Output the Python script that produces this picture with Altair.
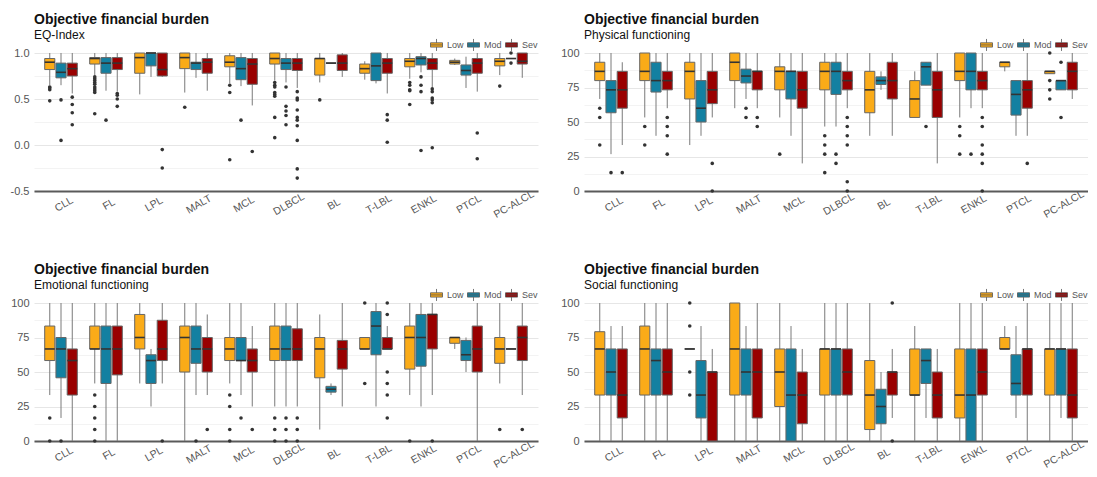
import altair as alt
import pandas as pd

CATS = ["CLL", "FL", "LPL", "MALT", "MCL", "DLBCL", "BL", "T-LBL", "ENKL", "PTCL", "PC-ALCL"]
GROUPS = ["Low", "Mod", "Sev"]
COLORS = ["#FAAB18", "#1380A1", "#990000"]
STATS = ["lo", "q1", "med", "q3", "hi"]

# ---------- EQ-Index: [lower whisker, Q1, median, Q3, upper whisker] per category ----------
EQ_LOW = [[0.65, 0.82, 0.90, 0.94, 1.00], [0.76, 0.88, 0.94, 0.95, 1.00], [0.55, 0.78, 0.95, 1.00, 1.00],
          [0.57, 0.83, 0.95, 1.00, 1.00], [0.67, 0.85, 0.90, 0.97, 1.00], [0.70, 0.88, 0.94, 1.00, 1.00],
          [0.68, 0.76, 0.94, 0.94, 1.00], [0.71, 0.78, 0.83, 0.88, 0.91], [0.72, 0.85, 0.91, 0.94, 1.00],
          [0.87, 0.88, 0.90, 0.92, 0.94], [0.76, 0.86, 0.91, 0.94, 1.00]]
EQ_MOD = [[0.65, 0.73, 0.79, 0.89, 1.00], [0.59, 0.78, 0.89, 0.95, 1.00], [0.74, 0.86, 1.00, 1.00, 1.00],
          [0.73, 0.82, 0.89, 0.90, 1.00], [0.64, 0.71, 0.83, 0.95, 1.00], [0.68, 0.82, 0.89, 0.94, 1.00],
          [0.89, 0.89, 0.89, 0.89, 0.89], [0.67, 0.70, 0.86, 1.00, 1.00], [0.79, 0.87, 0.94, 0.96, 1.00],
          [0.62, 0.76, 0.81, 0.87, 0.96], [0.94, 0.94, 0.94, 0.94, 0.94]]
EQ_SEV = [[0.56, 0.75, 0.83, 0.89, 1.00], [0.58, 0.82, 0.89, 0.95, 1.00], [0.74, 0.75, 0.82, 1.00, 1.00],
          [0.59, 0.78, 0.90, 0.94, 1.00], [0.43, 0.66, 0.88, 0.94, 1.00], [0.62, 0.81, 0.89, 0.94, 1.00],
          [0.74, 0.81, 0.89, 0.98, 1.00], [0.56, 0.78, 0.89, 0.94, 1.00], [0.63, 0.82, 0.89, 0.94, 1.00],
          [0.58, 0.78, 0.89, 0.94, 1.00], [0.73, 0.88, 0.91, 1.00, 1.00]]
EQ_LOW_OUT = [[0.63, 0.62, 0.60, 0.48], [0.74, 0.72, 0.70, 0.68, 0.66, 0.63, 0.61, 0.59, 0.57, 0.34], [], [0.41],
              [0.65, 0.57, -0.16], [0.68, 0.65, 0.63, 0.57, 0.55, 0.53, 0.30, 0.08], [0.49], [],
              [0.68, 0.65, 0.60, 0.59, 0.44], [], [0.64]]
EQ_MOD_OUT = [[0.49, 0.05], [0.27], [], [], [0.27], [0.63, 0.42, 0.37, 0.32, 0.22], [], [],
              [0.74, 0.65, 0.58, -0.06], [], [1.00, 0.89]]
EQ_SEV_OUT = [[0.52, 0.44, 0.35, 0.22], [0.56, 0.54, 0.50, 0.42], [-0.05, -0.25], [], [-0.07],
              [0.58, 0.51, 0.49, 0.38, 0.30, 0.27, 0.21, 0.05, -0.26, -0.36], [], [0.33, 0.27, 0.03],
              [0.61, 0.58, 0.51, 0.49, 0.46, -0.03], [0.13, -0.15], []]

# ---------- Physical functioning ----------
PF_LOW = [[66.7, 80, 86.7, 93.3, 100], [53.3, 80, 86.7, 100, 100], [33.3, 66.7, 86.7, 93.3, 100],
          [60, 80, 93.3, 100, 100], [53.3, 73.3, 86.7, 90, 100], [46.7, 73.3, 86.7, 93.3, 100],
          [40, 56.7, 73.3, 86.7, 100], [53.3, 53.3, 66.7, 80, 86.7], [53.3, 80, 86.7, 100, 100],
          [86.7, 90, 93.3, 93.3, 93.3], [85, 85, 86.7, 86.7, 86.7]]
PF_MOD = [[26.7, 56.7, 73.3, 80, 100], [40, 71.7, 80, 93.3, 100], [40, 50, 60, 80, 100],
          [66.7, 78.3, 83.3, 88.3, 100], [40, 66.7, 86.7, 86.7, 100], [46.7, 70, 86.7, 93.3, 100],
          [73.3, 77.2, 80, 82.7, 86.7], [76.7, 76.7, 90, 93.3, 93.3], [60, 73.3, 86.7, 100, 100],
          [40, 55, 70, 80, 80], [73.3, 73.3, 80, 80, 80]]
PF_SEV = [[33.3, 60, 73.3, 86.7, 93.3], [60, 73.3, 80, 86.7, 100], [53.3, 63.3, 73.3, 86.7, 100],
          [60, 73.3, 86.7, 86.7, 100], [20, 60, 73.3, 86.7, 100], [60, 73.3, 80, 86.7, 100],
          [40, 66.7, 80, 93.3, 100], [20, 53.3, 73.3, 86.7, 100], [60, 73.3, 80, 86.7, 100],
          [40, 60, 73.3, 80, 100], [66.7, 73.3, 86.7, 93.3, 100]]
PF_LOW_OUT = [[60, 53.3, 33.3], [46.7, 33.3], [], [], [26.7], [40, 33.3, 26.7, 13.3], [], [],
              [46.7, 40, 26.7], [], [100, 80, 73.3, 66.7]]
PF_MOD_OUT = [[13.3], [], [], [60, 53.3], [], [26.7, 20], [], [46.7], [26.7], [], [93.3, 53.3]]
PF_SEV_OUT = [[13.3], [53.3, 46.7, 40, 26.7], [20, 0], [53.3, 46.7], [], [53.3, 46.7, 40, 33.3, 6.7, 0],
              [], [], [53.3, 46.7, 33.3, 26.7, 20, 0], [20], []]

# ---------- Emotional functioning ----------
EF_LOW = [[33.3, 58.3, 66.7, 83.3, 100], [41.7, 66.7, 66.7, 83.3, 100], [41.7, 66.7, 75, 91.7, 100],
          [0, 50, 75, 83.3, 100], [41.7, 58.3, 66.7, 75, 100], [25, 58.3, 66.7, 83.3, 100],
          [8.3, 45.8, 66.7, 75, 91.7], [66.7, 66.7, 66.7, 75, 75], [33.3, 52.1, 75, 83.3, 100],
          [66.7, 70.8, 75, 75, 75], [41.7, 56.3, 66.7, 75, 100]]
EF_MOD = [[16.7, 45.8, 66.7, 75, 100], [0, 41.7, 66.7, 83.3, 100], [25, 41.7, 58.3, 62.5, 66.7],
          [33.3, 56.3, 66.7, 83.3, 100], [33.3, 58.3, 58.3, 75, 100], [25, 58.3, 66.7, 83.3, 100],
          [33.3, 35.4, 37.5, 39.6, 41.7], [25, 62.5, 83.3, 93.8, 100], [25, 54.2, 75, 91.7, 100],
          [50, 58.3, 62.5, 72.9, 75], [66.7, 66.7, 66.7, 66.7, 66.7]]
EF_SEV = [[0, 33.3, 58.3, 66.7, 100], [0, 47.9, 66.7, 83.3, 100], [41.7, 58.3, 66.7, 87.5, 100],
          [33.3, 50, 66.7, 75, 91.7], [25, 50, 58.3, 66.7, 83.3], [25, 58.3, 66.7, 81.3, 100],
          [25, 52.1, 66.7, 72.9, 100], [66.7, 66.7, 66.7, 75, 83.3], [33.3, 66.7, 91.7, 91.7, 100],
          [0, 50, 66.7, 83.3, 100], [33.3, 58.3, 75, 83.3, 100]]
EF_LOW_OUT = [[16.7, 0], [33.3, 25, 16.7, 8.3, 0], [], [], [33.3, 25, 8.3, 0], [16.7, 8.3, 0], [],
              [100, 41.7], [0], [], [8.3]]
EF_MOD_OUT = [[0], [], [], [0], [16.7], [16.7, 8.3, 0], [], [], [], [], []]
EF_SEV_OUT = [[], [], [0], [8.3], [8.3], [16.7, 8.3, 0], [], [100, 91.7, 50, 41.7, 33.3, 16.7], [0], [], [8.3]]

# ---------- Social functioning ----------
SF_LOW = [[0, 33.3, 66.7, 79.2, 100], [0, 33.3, 66.7, 83.3, 100], [66.7, 66.7, 66.7, 66.7, 66.7],
          [0, 33.3, 66.7, 100, 100], [0, 25, 50, 66.7, 100], [0, 33.3, 66.7, 66.7, 100],
          [0, 8.3, 33.3, 58.3, 100], [0, 33.3, 33.3, 66.7, 83.3], [0, 16.7, 33.3, 66.7, 100],
          [66.7, 66.7, 66.7, 75, 83.3], [0, 33.3, 66.7, 66.7, 100]]
SF_MOD = [[0, 33.3, 50, 66.7, 83.3], [0, 33.3, 58.3, 66.7, 100], [0, 16.7, 33.3, 58.3, 83.3],
          [0, 33.3, 50, 66.7, 83.3], [0, 0, 33.3, 66.7, 83.3], [0, 33.3, 66.7, 66.7, 100],
          [0, 12.5, 25, 37.5, 50], [16.7, 41.7, 58.3, 66.7, 66.7], [0, 0, 33.3, 66.7, 100],
          [16.7, 33.3, 41.7, 62.5, 83.3], [16.7, 33.3, 66.7, 66.7, 100]]
SF_SEV = [[0, 16.7, 33.3, 66.7, 83.3], [0, 33.3, 50, 66.7, 100], [0, 0, 50, 50, 66.7],
          [0, 16.7, 50, 66.7, 100], [0, 12.5, 33.3, 50, 66.7], [0, 33.3, 50, 66.7, 100],
          [16.7, 33.3, 50, 50, 66.7], [0, 16.7, 33.3, 50, 66.7], [0, 33.3, 50, 66.7, 100],
          [0, 33.3, 66.7, 66.7, 100], [0, 16.7, 33.3, 66.7, 100]]
SF_LOW_OUT = [[], [], [100, 83.3, 50, 33.3], [], [], [], [], [], [], [], []]
SF_MOD_OUT = [[], [], [], [], [], [], [], [], [], [], []]
SF_SEV_OUT = [[], [], [], [], [], [], [100, 0], [], [], [], []]

EQ_TICKS = [-0.5, -0.25, 0, 0.25, 0.5, 0.75, 1.0]
SCORE_TICKS = [0, 12.5, 25, 37.5, 50, 62.5, 75, 87.5, 100]

FONT = "Liberation Sans"
LEGEND_SYMBOL = "M-1,-0.36H1V0.36H-1Z M0,-0.36V-1 M0,0.36V1 M-1,0H1"


def panel(subtitle, boxes, outs, domain, ticks, major_test, label_expr):
    rows = []
    for g, stats in zip(GROUPS, boxes):
        for c, s in zip(CATS, stats):
            r = {"cat": c, "group": g}
            r.update(dict(zip(STATS, s)))
            rows.append(r)
    bdf = pd.DataFrame(rows)
    orows = []
    for g, olist in zip(GROUPS, outs):
        for c, vals in zip(CATS, olist):
            for v in vals:
                orows.append({"cat": c, "group": g, "val": v})
    odf = pd.DataFrame(orows)

    xaxis = alt.Axis(title=None, labelAngle=330, labelAlign="center", labelBaseline="middle",
                     labelPadding=13, labelOffset=3, ticks=False, tickSize=0, grid=False,
                     domainColor="#5a5a5a", domainWidth=1.8, labelColor="#555555",
                     labelFontSize=10.5, labelFont=FONT, labelOverlap=False)
    x = alt.X("cat:N", sort=CATS, axis=xaxis,
              scale=alt.Scale(type="band", domain=CATS, paddingInner=0.25, paddingOuter=0.225))
    xo = alt.XOffset("group:N", sort=GROUPS,
                     scale=alt.Scale(domain=GROUPS, paddingInner=0.1, paddingOuter=0.05))
    yaxis = alt.Axis(title=None, values=ticks, labelExpr=label_expr, grid=True,
                     gridColor={"condition": {"test": major_test, "value": "#e6e6e6"}, "value": "#f3f3f3"},
                     gridWidth=1, ticks=False, tickSize=0, domain=False, labelColor="#555555",
                     labelFontSize=11, labelFont=FONT, labelPadding=5, minExtent=26, maxExtent=26)
    ysc = alt.Scale(domain=domain, nice=False, zero=False)

    legend = alt.Legend(title=None, orient="none", legendX=396, legendY=-15, direction="horizontal",
                        symbolType=LEGEND_SYMBOL, symbolSize=144, symbolStrokeColor="#555555",
                        symbolStrokeWidth=0.8, symbolOpacity=1, labelFontSize=9, labelColor="#555555",
                        labelFont=FONT, labelOffset=4, columnPadding=1)

    whisk = alt.Chart(bdf).mark_rule(color="#7a7a7a", strokeWidth=1).encode(
        x=x, xOffset=xo, y=alt.Y("lo:Q", scale=ysc, axis=yaxis), y2="hi:Q")
    box = alt.Chart(bdf).mark_bar(stroke="#666666", strokeWidth=1, opacity=1).encode(
        x=x, xOffset=xo, y=alt.Y("q1:Q", scale=ysc, axis=yaxis), y2="q3:Q",
        color=alt.Color("group:N", scale=alt.Scale(domain=GROUPS, range=COLORS), legend=legend))
    med = alt.Chart(bdf).mark_tick(color="#333333", thickness=1.6, size=10, orient="horizontal", opacity=1).encode(
        x=x, xOffset=xo, y=alt.Y("med:Q", scale=ysc, axis=yaxis))
    pts = alt.Chart(odf).mark_circle(color="#333333", size=13, opacity=1).encode(
        x=x, xOffset=xo, y=alt.Y("val:Q", scale=ysc, axis=yaxis))

    return alt.layer(whisk, box, med, pts).properties(
        width=504, height=138,
        title=alt.Title("Objective financial burden", subtitle=subtitle, anchor="start", frame="group",
                        fontSize=14, fontWeight="bold", font=FONT, color="#111111",
                        subtitleFontSize=12, subtitleFont=FONT, subtitleColor="#111111",
                        subtitlePadding=3, offset=-2.5))


EQ_TEST = "abs(datum.value * 2 - round(datum.value * 2)) < 0.001"
EQ_LABEL = EQ_TEST + " ? replace(format(datum.value, '.1f'), '\u2212', '-') : ''"
SC_TEST = "datum.value % 25 == 0"
SC_LABEL = SC_TEST + " ? format(datum.value, 'd') : ''"

p1 = panel("EQ-Index", [EQ_LOW, EQ_MOD, EQ_SEV], [EQ_LOW_OUT, EQ_MOD_OUT, EQ_SEV_OUT],
           [-0.5, 1.0], EQ_TICKS, EQ_TEST, EQ_LABEL)
p2 = panel("Physical functioning", [PF_LOW, PF_MOD, PF_SEV], [PF_LOW_OUT, PF_MOD_OUT, PF_SEV_OUT],
           [0, 100], SCORE_TICKS, SC_TEST, SC_LABEL)
p3 = panel("Emotional functioning", [EF_LOW, EF_MOD, EF_SEV], [EF_LOW_OUT, EF_MOD_OUT, EF_SEV_OUT],
           [0, 100], SCORE_TICKS, SC_TEST, SC_LABEL)
p4 = panel("Social functioning", [SF_LOW, SF_MOD, SF_SEV], [SF_LOW_OUT, SF_MOD_OUT, SF_SEV_OUT],
           [0, 100], SCORE_TICKS, SC_TEST, SC_LABEL)

chart = alt.concat(p1, p2, p3, p4, columns=2, spacing={"row": 112, "column": 46},
                   bounds="flush").resolve_scale(color="independent")

chart = chart.properties(
    padding={"left": 0, "top": 4, "right": 0, "bottom": 0},
    background="white",
).configure(font=FONT).configure_view(stroke=None)

chart.save("out.html", embed_options={"renderer": "svg", "actions": False})
